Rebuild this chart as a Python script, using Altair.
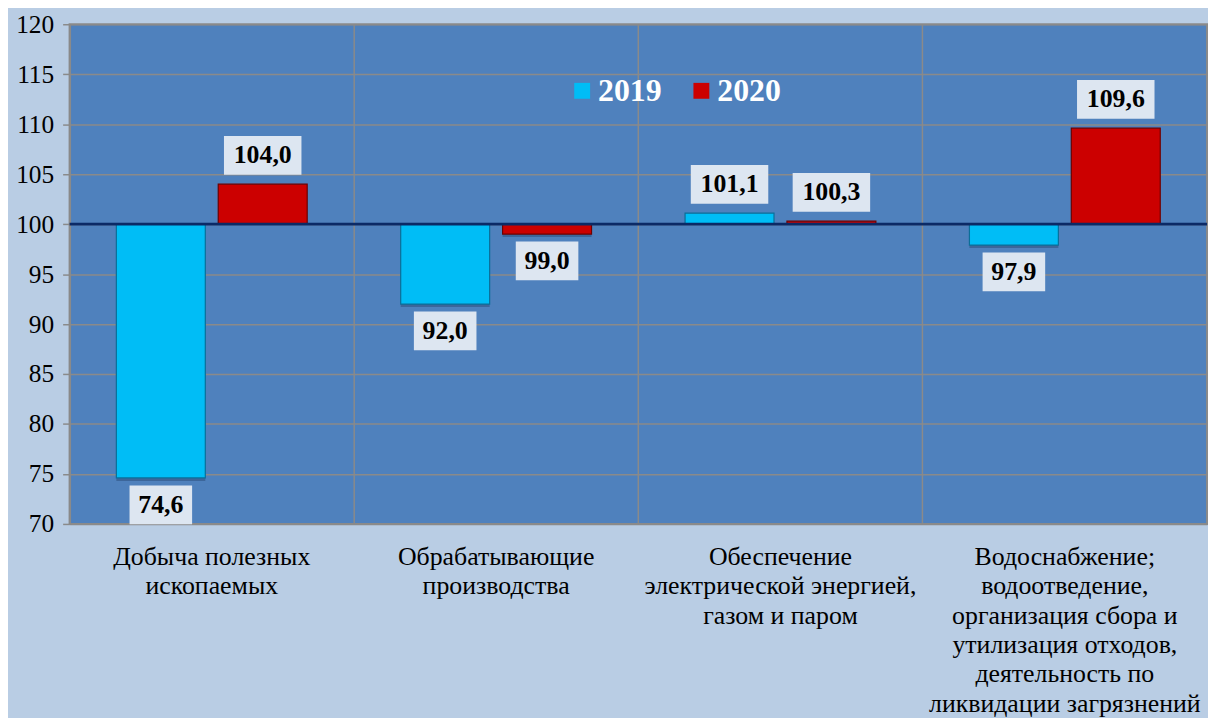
import altair as alt
import pandas as pd

categories = [
    "Добыча полезных\nископаемых",
    "Обрабатывающие\nпроизводства",
    "Обеспечение\nэлектрической энергией,\nгазом и паром",
    "Водоснабжение;\nводоотведение,\nорганизация сбора и\nутилизация отходов,\nдеятельность по\nликвидации загрязнений",
]
years = ["2019", "2020"]
values_2019 = [74.6, 92.0, 101.1, 97.9]
values_2020 = [104.0, 99.0, 100.3, 109.6]
y_ticks = [70, 75, 80, 85, 90, 95, 100, 105, 110, 115, 120]
base_value = 100

CYAN = "#00bdf6"
RED = "#cc0000"
CYAN_EDGE = "#0a6f99"
RED_EDGE = "#6e0000"
PLOT_BG = "#4f81bd"
PAGE_BG = "#b9cde4"
GRID = "#8a8a8a"
FONT = "Liberation Serif"

rows = []
for yr, vals in zip(years, [values_2019, values_2020]):
    for c, v in zip(categories, vals):
        label = f"{v:.1f}".replace(".", ",")
        w = 63 if len(label) <= 4 else 78
        rows.append({
            "cat": c, "year": yr, "value": v, "base": base_value,
            "label": label,
            "sz": w * w,
            "shape": f"M-1,-{39 / w:.4f}H1V{39 / w:.4f}H-1Z",
            "pos": v >= base_value,
        })
df = pd.DataFrame(rows)

x_enc = alt.X(
    "cat:N", sort=categories, title=None,
    scale=alt.Scale(paddingInner=0, paddingOuter=0),
    axis=alt.Axis(
        labelExpr="split(datum.label, '\\n')", labelFont=FONT, labelFontSize=26,
        labelColor="black", labelLineHeight=29.5, labelPadding=20, labelLimit=0,
        labelAngle=0, labelAlign="center", labelFlush=False, labelOverlap=False,
        ticks=False, domain=False, grid=True, bandPosition=0,
        gridColor=GRID, gridWidth=1.5, labelBaseline="top",
    ),
)
xo_enc = alt.XOffset("year:N", sort=years,
                     scale=alt.Scale(paddingInner=0.127, paddingOuter=0.459))
y_scale = alt.Scale(domain=[70, 120], nice=False, zero=False)
y_enc = alt.Y(
    "value:Q", scale=y_scale, title=None,
    axis=alt.Axis(values=y_ticks, labelFont=FONT, labelFontSize=25.5, labelColor="black",
                  tickColor=GRID, tickSize=7, tickWidth=1.5, labelPadding=9,
                  domainColor=GRID, domainWidth=2, gridColor=GRID, gridWidth=1.5),
)

base = alt.Chart(df)

shadow = base.mark_bar(color="#1b3558", opacity=0.35, xOffset=2, yOffset=3).encode(
    x=alt.X("cat:N", sort=categories), xOffset=alt.XOffset("year:N", sort=years),
    y=alt.Y("value:Q", scale=y_scale), y2="base:Q",
)

bars = base.mark_bar(strokeWidth=1.2).encode(
    x=x_enc, xOffset=xo_enc, y=y_enc, y2="base:Q",
    color=alt.Color(
        "year:N", sort=years,
        scale=alt.Scale(domain=years, range=[CYAN, RED]),
        legend=alt.Legend(
            orient="none", legendX=500, legendY=51, direction="horizontal",
            title=None, symbolType="square", symbolSize=256, symbolStrokeWidth=0,
            labelFont=FONT, labelFontSize=32, labelFontWeight="bold",
            labelColor="white", columnPadding=24, labelOffset=0, padding=0,
        ),
    ),
    stroke=alt.Stroke("year:N", scale=alt.Scale(domain=years, range=[CYAN_EDGE, RED_EDGE]),
                      legend=None),
)

baseline = alt.Chart(pd.DataFrame({"b": [base_value]})).mark_rule(
    color="#0b2a66", strokeWidth=3
).encode(y=alt.Y("b:Q", scale=y_scale))

pos = base.transform_filter("datum.pos")
neg = base.transform_filter("!datum.pos")


def boxes(src, off):
    return src.mark_point(filled=True, opacity=1, color="#dde6f1", yOffset=off).encode(
        x=alt.X("cat:N", sort=categories), xOffset=alt.XOffset("year:N", sort=years),
        y=alt.Y("value:Q", scale=y_scale),
        shape=alt.Shape("shape:N", scale=None),
        size=alt.Size("sz:Q", scale=None),
    )


def texts(src, off):
    return src.mark_text(font=FONT, fontSize=26, fontWeight="bold", color="black",
                         dy=off, baseline="middle").encode(
        x=alt.X("cat:N", sort=categories), xOffset=alt.XOffset("year:N", sort=years),
        y=alt.Y("value:Q", scale=y_scale),
        text="label:N",
    )


chart = alt.layer(
    shadow, bars, baseline,
    boxes(pos, -29), boxes(neg, 27),
    texts(pos, -29), texts(neg, 27),
).properties(
    width=1145, height=503,
    autosize=alt.AutoSizeParams(type="none"),
    padding={"left": 62, "top": 14, "right": 1, "bottom": 193},
    background=PAGE_BG,
).configure_view(
    fill=PLOT_BG, stroke=GRID, strokeWidth=2,
)

chart.save("out.html", embed_options={"renderer": "svg", "actions": False})
